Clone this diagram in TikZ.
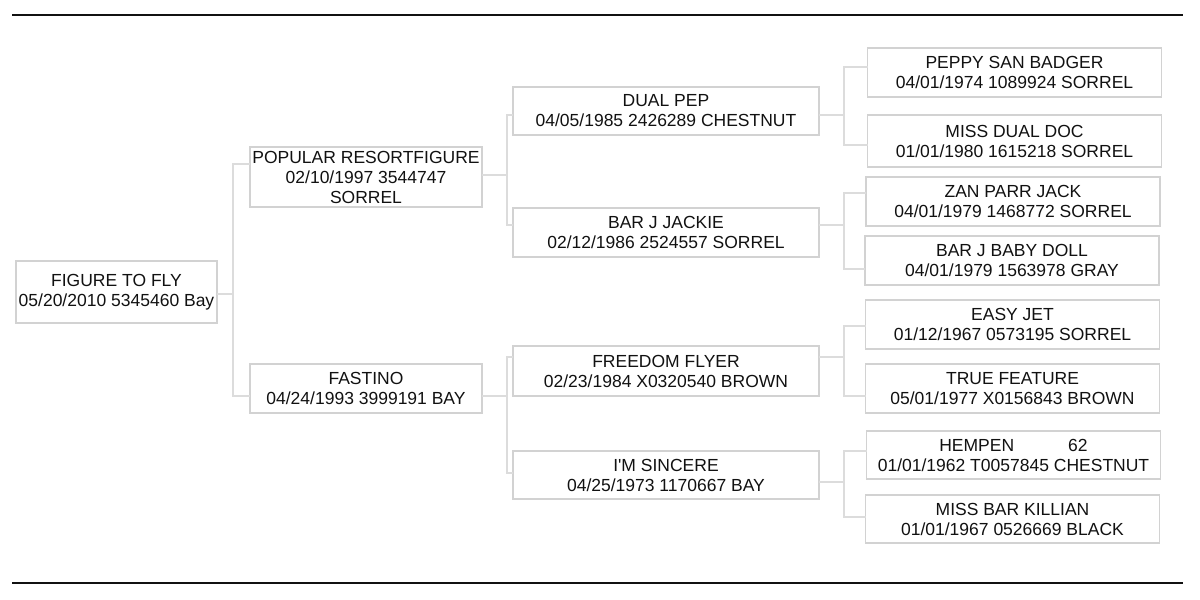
\documentclass[tikz,border=0pt]{standalone}
\usepackage{fontspec}
\setmainfont{Liberation Sans}
\definecolor{boxgray}{HTML}{D2D2D2}
\definecolor{linkgray}{HTML}{DCDCDC}
\definecolor{ink}{HTML}{111111}
\begin{document}
\begin{tikzpicture}[x=1pt, y=-1pt,
  horse/.style={rectangle, draw=boxgray, line width=1.6pt, inner sep=0pt, outer sep=0pt, align=center, text=ink, font=\fontsize{17.5}{20}\selectfont},
  gen0/.style={horse, minimum width=201, minimum height=62},
  gen1/.style={horse, minimum width=232},
  gen2/.style={horse, minimum width=306},
  gen3/.style={horse, minimum width=294},
  link/.style={draw=linkgray, line width=1.4pt},
  rule/.style={draw=ink, line width=2pt}]
\useasboundingbox (0,0) rectangle (1200,600);
\draw[rule] (12,15) -- (1183,15);
\draw[rule] (12,583) -- (1183,583);
\node[gen0] (root) at (116.5,292){FIGURE TO FLY\\05/20/2010 5345460 Bay};
\node[gen1, minimum height=60] (pop) at (366,177){POPULAR RESORTFIGURE\\02/10/1997 3544747\\SORREL};
\node[gen1, minimum height=49] (fas) at (366,388.5){FASTINO\\04/24/1993 3999191 BAY};
\node[gen2, minimum height=48] (dual) at (666,111){DUAL PEP\\04/05/1985 2426289 CHESTNUT};
\node[gen2, minimum height=49] (barj) at (666,232.5){BAR J JACKIE\\02/12/1986 2524557 SORREL};
\node[gen2, minimum height=50] (free) at (666,371){FREEDOM FLYER\\02/23/1984 X0320540 BROWN};
\node[gen2, minimum height=48] (sinc) at (666,475){I\textquotesingle M SINCERE\\04/25/1973 1170667 BAY};
\node[gen3, minimum height=49] (peppy) at (1014.5,72.5){PEPPY SAN BADGER\\04/01/1974 1089924 SORREL};
\node[gen3, minimum height=52] (mdd) at (1014.5,141){MISS DUAL DOC\\01/01/1980 1615218 SORREL};
\node[gen3, minimum height=49] (zan) at (1013,201.5){ZAN PARR JACK\\04/01/1979 1468772 SORREL};
\node[gen3, minimum height=49] (baby) at (1012,260.5){BAR J BABY DOLL\\04/01/1979 1563978 GRAY};
\node[gen3, minimum height=49] (easy) at (1012.5,324.5){EASY JET\\01/12/1967 0573195 SORREL};
\node[gen3, minimum height=49] (true) at (1012.5,388.5){TRUE FEATURE\\05/01/1977 X0156843 BROWN};
\node[gen3, minimum height=48] (hemp) at (1013.5,455){HEMPEN\hspace{54pt}62\\01/01/1962 T0057845 CHESTNUT};
\node[gen3, minimum height=48] (kill) at (1012.5,519){MISS BAR KILLIAN\\01/01/1967 0526669 BLACK};
\draw[link] ([yshift=-2pt]root.east) -- ++(16,0) coordinate (j0) |- ([yshift=13pt]pop.west);
\draw[link] (j0) |- ([yshift=-7.5pt]fas.west);
\draw[link] ([yshift=2pt]pop.east) -- ++(25,0) coordinate (j1) |- ([yshift=-4pt]dual.west);
\draw[link] (j1) |- ([yshift=7.5pt]barj.west);
\draw[link] ([yshift=-7.5pt]fas.east) -- ++(25,0) coordinate (j2) |- ([yshift=14pt]free.west);
\draw[link] (j2) |- ([yshift=2pt]sinc.west);
\draw[link] ([yshift=-4pt]dual.east) -- ++(25,0) coordinate (j3) |- ([yshift=5.5pt]peppy.west);
\draw[link] (j3) |- ([yshift=-4pt]mdd.west);
\draw[link] ([yshift=7.5pt]barj.east) -- ++(25,0) coordinate (j4) |- ([yshift=8.5pt]zan.west);
\draw[link] (j4) |- ([yshift=-8.5pt]baby.west);
\draw[link] ([yshift=14pt]free.east) -- ++(25,0) coordinate (j5) |- ([yshift=-1.5pt]easy.west);
\draw[link] (j5) |- ([yshift=-7.5pt]true.west);
\draw[link] ([yshift=-7pt]sinc.east) -- ++(25,0) coordinate (j6) |- ([yshift=4pt]hemp.west);
\draw[link] (j6) |- ([yshift=2pt]kill.west);
\end{tikzpicture}
\end{document}
